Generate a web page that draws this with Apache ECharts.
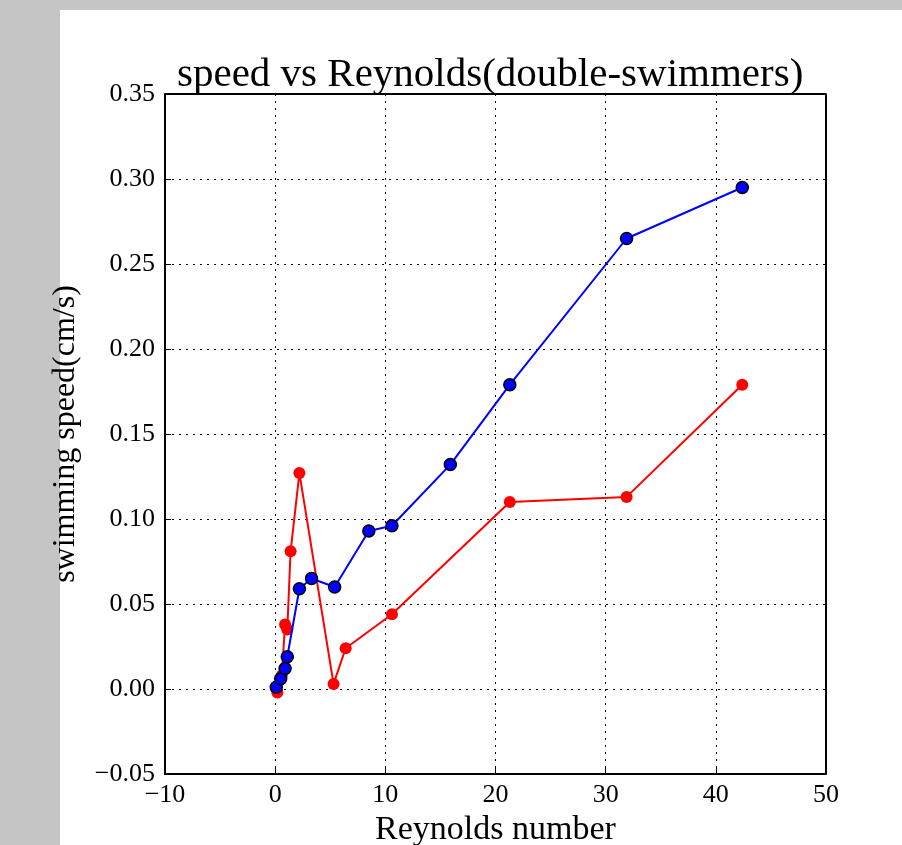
<!DOCTYPE html>
<html>
<head>
<meta charset="utf-8">
<script src="https://cdn.jsdelivr.net/npm/echarts@6/dist/echarts.min.js"></script>
<style>
  html, body { margin: 0; padding: 0; background: #c4c5c4; overflow: hidden; }
  #chart { width: 902px; height: 845px; }
</style>
</head>
<body>
<div id="chart"></div>
<script>
// blue series (speed vs Reynolds)
const blueRe = [0.1, 0.5, 0.9, 1.1, 2.2, 3.3, 5.4, 8.5, 10.6, 15.9, 21.3, 31.9, 42.4];
const blueSpeed = [0.001, 0.006, 0.012, 0.019, 0.059, 0.065, 0.060, 0.093, 0.096, 0.132, 0.179, 0.265, 0.295];
// red series
const redRe = [0.2, 0.6, 0.9, 1.1, 1.4, 2.2, 5.3, 6.4, 10.6, 21.3, 31.9, 42.4];
const redSpeed = [-0.002, 0.008, 0.038, 0.035, 0.081, 0.127, 0.003, 0.024, 0.044, 0.110, 0.113, 0.179];

const font = "'Liberation Serif', 'DejaVu Serif', serif";
const fmtNum = (v, d) => {
  const s = Math.abs(v).toFixed(d);
  return v < 0 ? "\u2212" + s : s;
};

const chart = echarts.init(document.getElementById("chart"));

const option = {
  backgroundColor: "#c4c5c4",
  animation: false,
  graphic: [
    {
      type: "rect",
      left: 60, top: 10, z: -10,
      shape: { width: 842, height: 835 },
      style: { fill: "#ffffff" }
    }
  ],
  title: {
    text: "speed vs Reynolds(double-swimmers)",
    left: 172,
    top: 50,
    textStyle: { fontFamily: font, fontSize: 41, fontWeight: "normal", color: "#000" }
  },
  grid: {
    left: 165, top: 94, right: 76, bottom: 71,
    containLabel: false, outerBoundsMode: "none", show: false
  },
  xAxis: {
    type: "value",
    min: -10, max: 50, interval: 10,
    name: "Reynolds number",
    nameLocation: "middle",
    nameGap: 38,
    nameTextStyle: { fontFamily: font, fontSize: 34, color: "#000" },
    axisLine: { show: true, onZero: false, lineStyle: { color: "#000", width: 2 } },
    axisTick: { show: true, inside: true, length: 6, lineStyle: { color: "#000" } },
    axisLabel: {
      fontFamily: font, fontSize: 26, color: "#000", margin: 8,
      formatter: v => fmtNum(v, 0)
    },
    splitLine: { show: true, lineStyle: { color: "#000", type: [2, 5], width: 1 } }
  },
  yAxis: {
    type: "value",
    min: -0.05, max: 0.35, interval: 0.05,
    name: "swimming speed(cm/s)",
    nameLocation: "middle",
    nameGap: 83,
    nameTextStyle: { fontFamily: font, fontSize: 32, color: "#000" },
    axisLine: { show: true, onZero: false, lineStyle: { color: "#000", width: 2 } },
    axisTick: { show: true, inside: true, length: 6, lineStyle: { color: "#000" } },
    axisLabel: {
      fontFamily: font, fontSize: 26, color: "#000", margin: 10,
      formatter: v => fmtNum(v, 2)
    },
    splitLine: { show: true, lineStyle: { color: "#000", type: [2, 5], width: 1 } }
  },
  series: [
    {
      type: "line",
      data: blueRe.map((x, i) => [x, blueSpeed[i]]),
      symbol: "circle",
      symbolSize: 12,
      lineStyle: { color: "#0000ff", width: 2 },
      itemStyle: { color: "#0000ff", borderColor: "#000", borderWidth: 1.5 },
      z: 3
    },
    {
      type: "line",
      data: redRe.map((x, i) => [x, redSpeed[i]]),
      symbol: "circle",
      symbolSize: 12,
      lineStyle: { color: "#ff0000", width: 2 },
      itemStyle: { color: "#ff0000", borderColor: "#ff0000", borderWidth: 0 },
      z: 2
    },
    // top / right frame of the axes box
    {
      type: "line",
      data: [[-10, 0.35], [50, 0.35], [50, -0.05]],
      symbol: "none",
      lineStyle: { color: "#000", width: 2 },
      silent: true,
      z: 4
    }
  ]
};

chart.setOption(option);
</script>
</body>
</html>
